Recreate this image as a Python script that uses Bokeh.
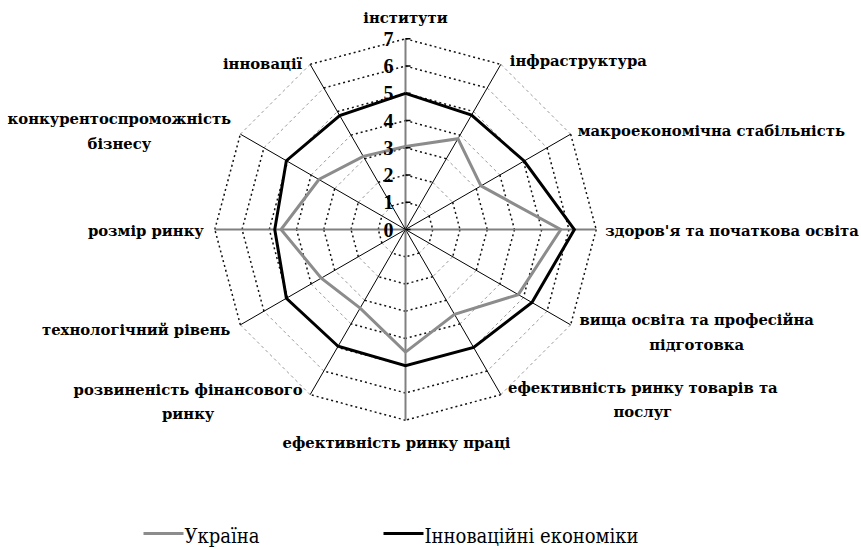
import math
from bokeh.plotting import figure
from bokeh.models import Range1d
from bokeh.core.properties import value
from bokeh.embed import file_html
from bokeh.resources import INLINE

# ---------------- data ----------------
categories = [
    "інститути",
    "інфраструктура",
    "макроекономічна стабільність",
    "здоров'я та початкова освіта",
    "вища освіта та професійна\nпідготовка",
    "ефективність ринку товарів та\nпослуг",
    "ефективність ринку праці",
    "розвиненість фінансового\nринку",
    "технологічний рівень",
    "розмір ринку",
    "конкурентоспроможність\nбізнесу",
    "інновації",
]
ukraine = [3.05, 3.85, 3.2, 5.7, 4.78, 3.6, 4.5, 3.33, 3.57, 4.57, 3.67, 3.1]
innovative = [5.0, 4.85, 5.03, 6.2, 5.36, 5.0, 5.0, 4.95, 5.05, 4.8, 5.05, 4.83]
tick_values = [0, 1, 2, 3, 4, 5, 6, 7]
series_names = ["Україна", "Інноваційні економіки"]
series_colors = ["#8c8c8c", "black"]

# ---------------- layout ----------------
W, H = 861, 549
K = 27.24            # pixels per unit
CX, CY = 405, 229    # centre in figure pixels (from top-left)
RMAX = 7
LABEL_FONT = "DejaVu Serif"
LEGEND_FONT = "DejaVu Serif Condensed"

p = figure(width=W, height=H, output_backend="svg", toolbar_location=None,
           x_range=Range1d(-CX / K, (W - CX) / K),
           y_range=Range1d(-(H - CY) / K, CY / K),
           min_border=0, outline_line_color=None)
p.axis.visible = False
p.grid.visible = False
p.background_fill_color = "white"
p.border_fill_color = "white"

n = len(categories)
angles = [math.radians(90 - 360.0 * i / n) for i in range(n)]


def pt(r, a):
    return r * math.cos(a), r * math.sin(a)


def px(xp, yp):
    """screen pixel (from top-left) -> data coordinates"""
    return (xp - CX) / K, (CY - yp) / K


# rings
dark_xs, dark_ys, grey_xs, grey_ys = [], [], [], []
for r in tick_values[1:]:
    for i in range(n):
        x0, y0 = pt(r, angles[i])
        x1, y1 = pt(r, angles[(i + 1) % n])
        if i % 3 == 1:
            grey_xs.append([x0, x1]); grey_ys.append([y0, y1])
        else:
            dark_xs.append([x0, x1]); dark_ys.append([y0, y1])
p.multi_line(grey_xs, grey_ys, line_color="#9a9a9a", line_width=1, line_dash="3 3")
p.multi_line(dark_xs, dark_ys, line_color="#111111", line_width=1.5, line_dash="2 3")

# spokes
for i in range(n):
    x1, y1 = pt(RMAX, angles[i])
    if i % 3 == 0:
        p.line([0, x1], [0, y1], line_color="#808080", line_width=2)
    else:
        p.line([0, x1], [0, y1], line_color="black", line_width=1)

# series
def closed(vals):
    xs = [v * math.cos(a) for v, a in zip(vals, angles)]
    ys = [v * math.sin(a) for v, a in zip(vals, angles)]
    return xs + xs[:1], ys + ys[:1]

for vals, col in zip([ukraine, innovative], series_colors):
    xs, ys = closed(vals)
    p.line(xs, ys, line_color=col, line_width=3, line_join="miter")

# tick marks and numbers on vertical axis
p.segment(x0=[0] * len(tick_values), y0=tick_values,
          x1=[5 / K] * len(tick_values), y1=tick_values,
          line_color="black", line_width=1.5)
p.text(x=[0] * len(tick_values), y=tick_values, text=[str(t) for t in tick_values],
       x_offset=-12, text_align="right", text_baseline="middle",
       text_font=value("Liberation Serif"), text_font_style="bold",
       text_font_size="20px", text_color="black")

# category labels
offsets = [(0, -21, "center"), (9, -4, "left"), (7, -4, "left"), (9, 1, "left"),
           (126, 7, "center"), (142, 5, "center"), (-9, 22, "center"),
           (-122, 7, "center"), (-10, 5, "right"), (-11, 1, "right"),
           (-121, -3, "center"), (-8, -1, "right")]
for i, lab in enumerate(categories):
    x, y = pt(RMAX, angles[i])
    dx, dy, al = offsets[i]
    p.text(x=[x], y=[y], text=[lab], x_offset=dx, y_offset=dy,
           text_align=al, text_baseline="middle", text_line_height=1.45,
           text_font=value(LABEL_FONT), text_font_style="bold",
           text_font_size="14.8px", text_color="black")

# legend (drawn manually so the serif font is honoured)
legend_left = [143, 383]   # pixel x of each legend swatch
LEG_Y = 533
SWATCH = 40
for name, col, lx in zip(series_names, series_colors, legend_left):
    x0, y0 = px(lx, LEG_Y)
    x1, _ = px(lx + SWATCH, LEG_Y)
    p.segment(x0=[x0], y0=[y0], x1=[x1], y1=[y0], line_color=col, line_width=3)
    p.text(x=[x1], y=[y0], text=[name], x_offset=1, y_offset=2,
           text_align="left", text_baseline="middle",
           text_font=value(LEGEND_FONT), text_font_size="20px", text_color="black")

open("out.html", "w").write(file_html(p, INLINE))
